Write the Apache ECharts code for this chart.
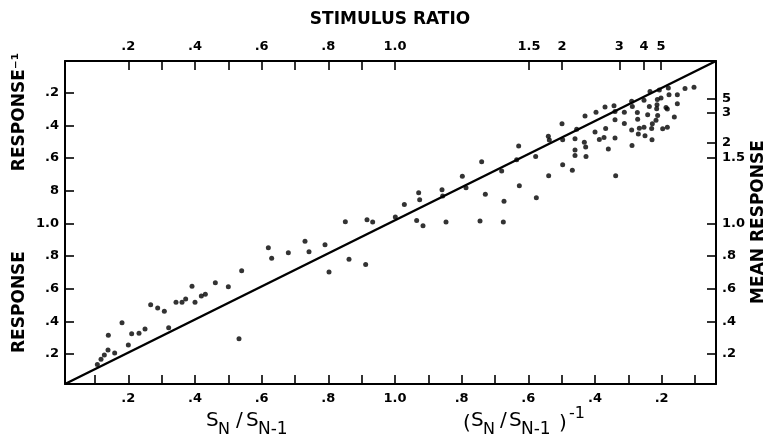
<!DOCTYPE html>
<html>
<head>
<meta charset="utf-8">
<script src="https://cdn.jsdelivr.net/npm/echarts@6/dist/echarts.min.js"></script>
<style>html,body{margin:0;padding:0;background:#fff}#c{width:766px;height:438px}</style>
</head>
<body>
<div id="c"></div>
<script>
// ---- data (axis units: left half = S_N/S_N-1, right half = 2 - (S_N/S_N-1)^-1) ----
const ratioX = [0.107,0.118,0.128,0.139,0.140,0.159,0.181,0.200,0.210,0.232,0.250,0.267,0.288,0.308,0.321,0.343,0.361,0.372,0.391,0.400,0.419,0.431,0.461,0.500,0.540,0.532,
0.620,0.630,0.680,0.730,0.742,0.790,0.802,0.851,0.862,0.912,0.916,0.933,1.001,1.028,1.065,1.071,1.074,1.084,
1.141,1.143,1.153,1.202,1.213,1.255,1.260,1.271,1.320,1.325,1.327,1.365,1.371,1.373,1.422,1.424,1.460,1.463,1.461,1.501,1.503,1.503,1.532,1.540,1.540,1.540,1.545,
1.570,1.568,1.572,1.573,1.600,1.603,1.613,1.627,1.630,1.632,1.640,1.657,1.660,1.660,1.662,1.660,1.688,1.688,1.710,1.712,1.710,1.711,1.727,1.728,1.733,1.730,1.747,1.747,1.750,1.758,1.765,1.763,1.770,1.771,1.772,1.783,1.785,1.787,1.786,1.788,1.793,1.798,1.803,1.813,1.817,1.817,1.820,1.822,1.838,1.847,1.847,1.870,1.897];
const responseY = [0.137,0.168,0.194,0.225,0.315,0.206,0.392,0.255,0.324,0.327,0.353,0.502,0.482,0.463,0.361,0.517,0.517,0.537,0.616,0.518,0.555,0.567,0.636,0.612,0.710,0.294,
0.851,0.786,0.820,0.890,0.826,0.869,0.702,1.010,0.780,0.749,1.022,1.008,1.039,1.116,1.018,1.187,1.144,0.985,
1.206,1.167,1.008,1.288,1.218,1.014,1.377,1.179,1.320,1.008,1.136,1.389,1.473,1.230,1.410,1.157,1.534,1.510,1.291,1.610,1.512,1.359,1.326,1.518,1.450,1.416,1.577,
1.658,1.496,1.467,1.410,1.559,1.681,1.514,1.526,1.712,1.581,1.455,1.720,1.685,1.522,1.291,1.634,1.681,1.612,1.747,1.716,1.571,1.477,1.679,1.638,1.583,1.547,1.753,1.589,1.536,1.665,1.808,1.716,1.581,1.512,1.610,1.632,1.701,1.759,1.726,1.661,1.816,1.767,1.579,1.710,1.700,1.589,1.828,1.787,1.651,1.787,1.732,1.826,1.834];

const xRange = [0.01, 1.963];
const yRange = [0.017, 1.994];
const diagX = [0.01, 1.963];
const diagY = [0.017, 1.994];

const bottomTicks = [0.1,0.2,0.3,0.4,0.5,0.6,0.7,0.8,0.9,1.0,1.1,1.2,1.3,1.4,1.5,1.6,1.7,1.8,1.9];
const bottomLabelPos = [0.2,0.4,0.6,0.8,1.0,1.2,1.4,1.6,1.8];
const bottomLabels = ['.2','.4','.6','.8','1.0','.8','.6','.4','.2'];

const topTicks = [0.2,0.3,0.4,0.5,0.6,0.7,0.8,0.9,1.0,1.402,1.501,1.673,1.747,1.798];
const topLabelPos = [0.2,0.4,0.6,0.8,1.0,1.402,1.501,1.673,1.747,1.798];
const topLabels = ['.2','.4','.6','.8','1.0','1.5','2','3','4','5'];

const leftLabelPos = [0.2,0.4,0.6,0.8,1.0,1.2,1.4,1.6,1.8];
const leftLabels = ['.2','.4','.6','.8','1.0','8','.6','.4','.2'];

const rightLabelPos = [0.2,0.4,0.6,0.8,1.0,1.404,1.496,1.675,1.763];
const rightLabels = ['.2','.4','.6','.8','1.0','1.5','2','3','5'];

// ---- chart ----
const FONT = 'DejaVu Sans';
function lookup(pos, labels) {
  return function (v) {
    for (let i = 0; i < pos.length; i++) if (Math.abs(pos[i] - v) < 1e-6) return labels[i];
    return '';
  };
}
const axisLine = { show: true, lineStyle: { color: '#000', width: 2 } };
const tick = (vals) => ({ show: true, inside: true, length: 9, customValues: vals, lineStyle: { color: '#000', width: 1.6 } });
const lbl = (pos, labels, extra) => Object.assign({
  customValues: pos, formatter: lookup(pos, labels), color: '#000',
  fontFamily: FONT, fontWeight: 'bold', fontSize: 13
}, extra || {});

const chart = echarts.init(document.getElementById('c'), null, { renderer: 'canvas' });
chart.setOption({
  animation: false,
  backgroundColor: '#fff',
  grid: { left: 65, right: 50, top: 61, bottom: 54 },
  xAxis: [
    { type: 'value', position: 'bottom', min: xRange[0], max: xRange[1], axisLine, splitLine: { show: false },
      axisTick: tick(bottomTicks), axisLabel: lbl(bottomLabelPos, bottomLabels, { margin: 8 }) },
    { type: 'value', position: 'top', min: xRange[0], max: xRange[1], axisLine, splitLine: { show: false },
      axisTick: tick(topTicks), axisLabel: lbl(topLabelPos, topLabels, { margin: 8 }) }
  ],
  yAxis: [
    { type: 'value', position: 'left', min: yRange[0], max: yRange[1], axisLine, splitLine: { show: false },
      axisTick: tick(leftLabelPos), axisLabel: lbl(leftLabelPos, leftLabels, { margin: 6 }) },
    { type: 'value', position: 'right', min: yRange[0], max: yRange[1], axisLine, splitLine: { show: false },
      axisTick: tick(rightLabelPos), axisLabel: lbl(rightLabelPos, rightLabels, { margin: 6 }) }
  ],
  series: [
    { type: 'line', xAxisIndex: 0, yAxisIndex: 0, data: diagX.map((x, i) => [x, diagY[i]]),
      symbol: 'none', lineStyle: { color: '#000', width: 2.5 }, silent: true },
    { type: 'scatter', xAxisIndex: 0, yAxisIndex: 0, data: ratioX.map((x, i) => [x, responseY[i]]),
      symbolSize: 5, itemStyle: { color: '#000' } }
  ],
  graphic: [
    { type: 'text', x: 390, y: 20, style: { text: 'STIMULUS RATIO', align: 'center', verticalAlign: 'middle', font: 'bold 17px "DejaVu Sans"', fill: '#000' } },
    { type: 'text', x: 20, y: 112, rotation: Math.PI / 2, style: { text: 'RESPONSE\u207B\u00B9', align: 'center', verticalAlign: 'middle', font: 'bold 17px "DejaVu Sans"', fill: '#000' } },
    { type: 'text', x: 20, y: 302, rotation: Math.PI / 2, style: { text: 'RESPONSE', align: 'center', verticalAlign: 'middle', font: 'bold 17px "DejaVu Sans"', fill: '#000' } },
    { type: 'text', x: 759, y: 222, rotation: Math.PI / 2, style: { text: 'MEAN RESPONSE', align: 'center', verticalAlign: 'middle', font: 'bold 17px "DejaVu Sans"', fill: '#000' } },
    // S_N / S_N-1
    { type: 'text', x: 206, y: 431, style: { text: 'S', align: 'left', verticalAlign: 'bottom', font: '20px "DejaVu Sans"', fill: '#000' } },
    { type: 'text', x: 218, y: 438, style: { text: 'N', align: 'left', verticalAlign: 'bottom', font: '16px "DejaVu Sans"', fill: '#000' } },
    { type: 'text', x: 236, y: 431, style: { text: '/', align: 'left', verticalAlign: 'bottom', font: '20px "DejaVu Sans"', fill: '#000' } },
    { type: 'text', x: 246, y: 431, style: { text: 'S', align: 'left', verticalAlign: 'bottom', font: '20px "DejaVu Sans"', fill: '#000' } },
    { type: 'text', x: 258, y: 438, style: { text: 'N-1', align: 'left', verticalAlign: 'bottom', font: '17px "DejaVu Sans"', fill: '#000' } },
    // (S_N / S_N-1)^-1
    { type: 'text', x: 463, y: 434, style: { text: '(', align: 'left', verticalAlign: 'bottom', font: '20px "DejaVu Sans"', fill: '#000' } },
    { type: 'text', x: 471, y: 431, style: { text: 'S', align: 'left', verticalAlign: 'bottom', font: '20px "DejaVu Sans"', fill: '#000' } },
    { type: 'text', x: 483, y: 438, style: { text: 'N', align: 'left', verticalAlign: 'bottom', font: '16px "DejaVu Sans"', fill: '#000' } },
    { type: 'text', x: 500, y: 431, style: { text: '/', align: 'left', verticalAlign: 'bottom', font: '20px "DejaVu Sans"', fill: '#000' } },
    { type: 'text', x: 509, y: 431, style: { text: 'S', align: 'left', verticalAlign: 'bottom', font: '20px "DejaVu Sans"', fill: '#000' } },
    { type: 'text', x: 521, y: 438, style: { text: 'N-1', align: 'left', verticalAlign: 'bottom', font: '17px "DejaVu Sans"', fill: '#000' } },
    { type: 'text', x: 559, y: 434, style: { text: ')', align: 'left', verticalAlign: 'bottom', font: '20px "DejaVu Sans"', fill: '#000' } },
    { type: 'text', x: 569, y: 406, style: { text: '-1', align: 'left', verticalAlign: 'top', font: '16px "DejaVu Sans"', fill: '#000' } }
  ]
});
</script>
</body>
</html>
